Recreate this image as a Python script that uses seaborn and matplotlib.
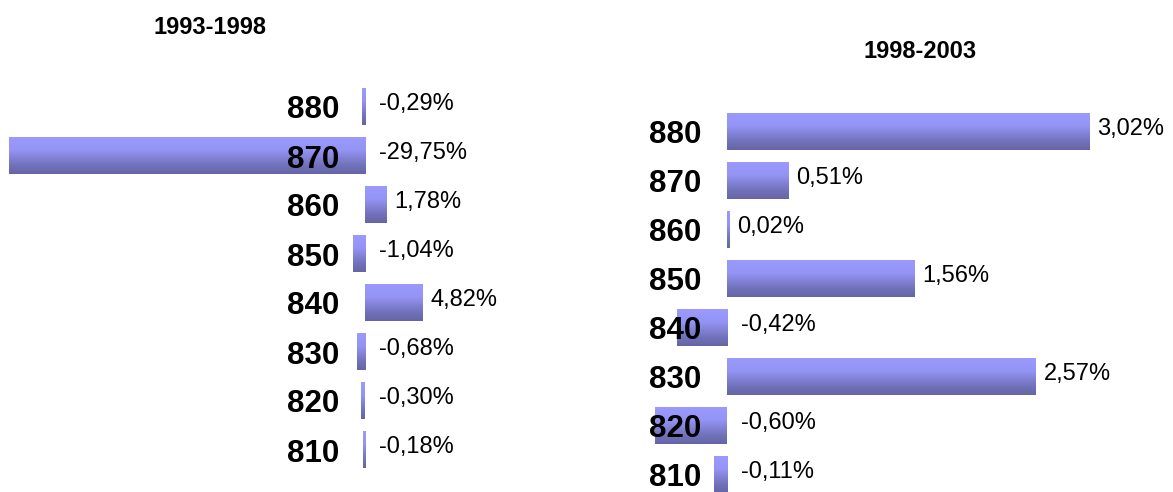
import numpy as np
import pandas as pd
import matplotlib
matplotlib.use("Agg")
import matplotlib.pyplot as plt
from matplotlib.colors import LinearSegmentedColormap
import seaborn as sns

# =========================
# DATA
# =========================
categories = ["880", "870", "860", "850", "840", "830", "820", "810"]
change_93_98 = [-0.29, -29.75, 1.78, -1.04, 4.82, -0.68, -0.30, -0.18]
change_98_03 = [3.02, 0.51, 0.02, 1.56, -0.42, 2.57, -0.60, -0.11]
titles = ["1993-1998", "1998-2003"]

# =========================
# STYLE
# =========================
sns.set_theme(style="white")
plt.rcParams['font.family'] = ['Liberation Sans', 'DejaVu Sans']
plt.rcParams['text.color'] = 'black'
plt.rcParams['ytick.labelcolor'] = 'black'

DPI = 100
W, H = 1173, 492
fig = plt.figure(figsize=(W / DPI, H / DPI), dpi=DPI)

# light top -> darker bottom, like the original bars
bar_cmap = LinearSegmentedColormap.from_list(
    "bar_grad", [(0.0, "#9a9aff"), (0.35, "#9494f4"), (0.75, "#7373bd"), (1.0, "#6565a6")])
grad = np.linspace(0, 1, 64).reshape(-1, 1)


def px_box(x0, x1, y0, y1):
    # figure pixel box -> axes rect in figure fraction
    return [x0 / W, 1 - y1 / H, (x1 - x0) / W, (y1 - y0) / H]


def draw_panel(ax, values, xlim, label_pad_px):
    df = pd.DataFrame({"code": categories, "value": values})
    sns.barplot(data=df, x="value", y="code", orient="h", width=0.74,
                color="#7f7fd5", ax=ax, linewidth=0)

    # gradient fill on each bar (kept under the axis so the codes sit on top)
    for p in list(ax.patches):
        x0, y0 = p.get_x(), p.get_y()
        w, h = p.get_width(), p.get_height()
        ax.imshow(grad, cmap=bar_cmap, aspect="auto", origin="upper",
                  extent=[x0, x0 + w, y0 + h, y0], zorder=1, interpolation="bilinear")
        p.set_visible(False)
    ax.set_axisbelow(False)

    # value labels
    for i, v in enumerate(values):
        txt = f"{v:.2f}".replace(".", ",") + "%"
        x_anchor, dx = (v, 8) if v >= 0 else (0, 14)
        ax.annotate(txt, (x_anchor, i), xytext=(dx, 3), textcoords="offset pixels",
                    ha="left", va="center", fontsize=17, color="black")

    ax.set_xlim(*xlim)
    ax.set_ylim(len(categories) - 0.5, -0.5)
    ax.set_xlabel("")
    ax.set_ylabel("")
    ax.set_xticks([])
    ax.tick_params(axis="y", length=0, pad=-label_pad_px * 72 / DPI, labelsize=22.5,
                   labelcolor="black")
    for lab in ax.get_yticklabels():
        lab.set_fontweight("bold")
    for s in ax.spines.values():
        s.set_visible(False)
    ax.set_facecolor("none")
    ax.grid(False)


# =========================
# LEFT PANEL: 1993-1998
# =========================
ax1 = fig.add_axes(px_box(0, 560, 82.5, 474.5))
zero1, scale1 = 365, 11.97
draw_panel(ax1, change_93_98, ((0 - zero1) / scale1, (560 - zero1) / scale1), 339)

# =========================
# RIGHT PANEL: 1998-2003
# =========================
ax2 = fig.add_axes(px_box(600, 1173, 107.5, 499.5))
zero2, scale2 = 727, 120.0
draw_panel(ax2, change_98_03, ((600 - zero2) / scale2, (1173 - zero2) / scale2), 101)

fig.text(210 / W, 1 - 28 / H, titles[0], ha="center", va="center",
         fontsize=17, fontweight="bold")
fig.text(920 / W, 1 - 52 / H, titles[1], ha="center", va="center",
         fontsize=17, fontweight="bold")

fig.savefig("out.png", dpi=DPI)
